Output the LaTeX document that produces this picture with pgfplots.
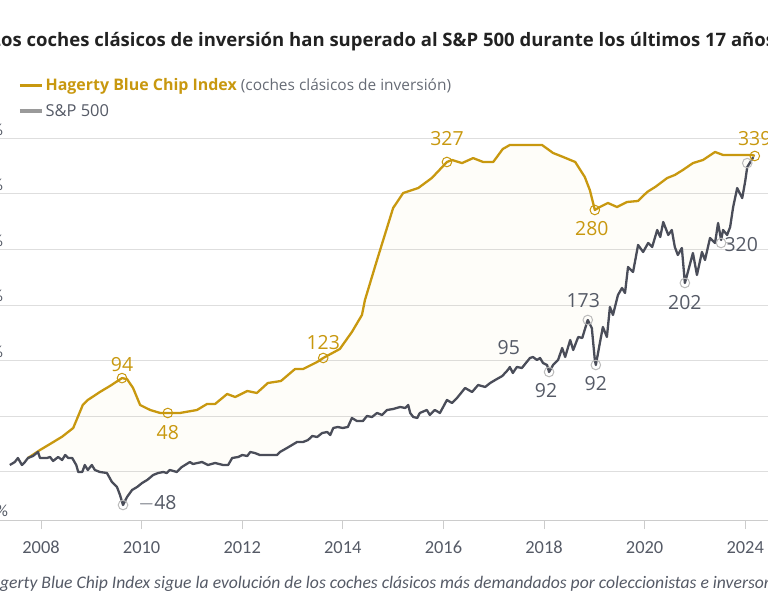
\documentclass[border=0pt]{standalone}
\usepackage{fontspec}
\setmainfont{Open Sans}
\newfontfamily\carlito{Carlito}
\usepackage{pgfplots}
\pgfplotsset{compat=1.18}
\usepgfplotslibrary{fillbetween}
\definecolor{gold}{HTML}{C8980F}
\definecolor{spgray}{HTML}{4A4D59}
\definecolor{gridc}{HTML}{DEDEDE}
\definecolor{axisc}{HTML}{CCCCCC}
\definecolor{titlec}{HTML}{222222}
\definecolor{labgray}{HTML}{555A66}
\definecolor{legline}{HTML}{9A9A9A}
\definecolor{circgray}{HTML}{BBBBBB}
\begin{document}
\begin{tikzpicture}
\begin{axis}[
  at={(-30bp,80bp)}, anchor=south west,
  scale only axis, width=820bp, height=403.9bp,
  xmin=2006.588, xmax=2022.89, ymin=-43.5, ymax=320,
  set layers, clip=false,
  axis x line*=bottom, axis y line*=left,
  y axis line style={draw=none},
  x axis line style={draw=axisc, line width=0.8bp, -},
  ytick={-43.5,0,50,100,150,200,250,300},
  yticklabels={$-$50\%,0\%,50\%,100\%,150\%,200\%,250\%,300\%},
  ymajorgrids, grid style={gridc, line width=0.8bp},
  ytick style={draw=none},
  yticklabel style={anchor=base west, inner sep=0pt, yshift=3bp, xshift=4bp,
    font=\carlito\fontsize{17}{17}\selectfont, text=labgray},
  /pgf/number format/assume math mode=true,
  xtick={2008,2010,2012,2014,2016,2018,2020,2022},
  xticklabels={2008,2010,2012,2014,2016,2018,2020,2024},
  xtick style={draw=axisc, line width=0.8bp},
  tick align=outside, major tick length=9bp,
  xticklabel style={font=\carlito\fontsize{18.5}{18.5}\selectfont, text=labgray, inner sep=0pt, yshift=-12bp},
  legend style={draw=none, fill=none, at={(axis description cs:0.0585,1.0448)}, anchor=west,
    inner sep=0pt, row sep=8bp, font=\fontsize{16}{16}\selectfont, cells={anchor=west}},
  legend image code/.code={\draw[#1] (0bp,0bp) -- (22bp,0bp);},
  legend cell align=left,
]
\addlegendimage{gold, line width=3.5bp}
\addlegendentry{\textcolor{gold}{\bfseries Hagerty Blue Chip Index} \textcolor{labgray!90}{\fontsize{15.5}{16}\selectfont(coches clásicos de inversión)}}
\addlegendimage{legline, line width=3.5bp}
\addlegendentry{\textcolor{labgray}{\fontsize{16.5}{16}\selectfont S\&P 500}}

\addplot[name path=hag, draw=none, forget plot] coordinates {
(2007.74,12.3)(2007.98,19.5)(2008.18,24.9)(2008.42,31.5)(2008.64,39.3)(2008.83,60.0)(2008.93,64.5)(2009.17,71.7)(2009.37,77.1)(2009.61,84.2)(2009.71,83.3)(2009.83,75.3)(2009.97,60.0)(2010.17,55.5)(2010.37,52.8)(2010.52,52.8)(2010.76,52.8)(2011.10,55.5)(2011.30,60.9)(2011.46,60.9)(2011.70,69.9)(2011.86,67.2)(2012.10,72.6)(2012.29,70.8)(2012.51,79.8)(2012.77,81.6)(2013.05,92.4)(2013.21,92.4)(2013.49,98.7)(2013.61,102.3)(2013.94,110.4)(2014.18,125.7)(2014.38,141.0)(2014.44,154.5)(2014.68,190.5)(2015.00,237.3)(2015.20,250.8)(2015.50,255.3)(2015.77,264.3)(2016.07,278.7)(2016.17,280.5)(2016.37,277.7)(2016.59,282.2)(2016.79,278.7)(2016.99,278.7)(2017.18,290.4)(2017.32,294.0)(2017.52,294.0)(2017.96,294.0)(2018.18,286.8)(2018.38,283.2)(2018.62,278.7)(2018.81,265.2)(2018.91,253.5)(2019.01,235.5)(2019.11,238.2)(2019.27,241.8)(2019.45,238.2)(2019.65,242.7)(2019.87,243.6)(2020.05,251.7)(2020.21,256.2)(2020.45,264.3)(2020.60,267.0)(2020.76,271.5)(2020.96,277.7)(2021.16,280.5)(2021.40,287.7)(2021.56,285.0)(2022.14,285.0)(2022.19,284.1)
};
\addplot[name path=sp, draw=none, forget plot] coordinates {
(2007.38,6.0)(2007.48,8.7)(2007.54,12.3)(2007.62,6.0)(2007.68,8.7)(2007.74,12.3)(2007.84,14.1)(2007.94,17.7)(2007.98,12.3)(2008.12,12.3)(2008.18,13.2)(2008.24,9.6)(2008.34,13.2)(2008.42,10.5)(2008.48,15.0)(2008.54,12.3)(2008.62,12.3)(2008.70,6.0)(2008.74,-0.3)(2008.82,-0.3)(2008.87,6.0)(2008.93,1.5)(2009.01,6.0)(2009.07,1.5)(2009.17,-0.3)(2009.31,-1.2)(2009.41,-9.3)(2009.51,-13.8)(2009.57,-21.0)(2009.63,-30.0)(2009.71,-22.8)(2009.81,-16.5)(2009.91,-13.8)(2010.01,-10.2)(2010.11,-7.5)(2010.23,-3.0)(2010.33,-1.2)(2010.43,-0.3)(2010.50,-1.2)(2010.56,1.5)(2010.70,-0.3)(2010.80,4.2)(2010.96,8.7)(2011.02,6.9)(2011.20,8.7)(2011.32,6.0)(2011.46,7.8)(2011.62,6.0)(2011.72,6.0)(2011.80,12.3)(2011.92,13.2)(2012.00,15.0)(2012.10,14.1)(2012.16,17.7)(2012.25,16.8)(2012.35,15.0)(2012.55,15.0)(2012.69,15.0)(2012.75,17.7)(2012.89,21.3)(2012.99,24.0)(2013.09,26.7)(2013.21,26.7)(2013.31,28.5)(2013.39,32.1)(2013.49,31.2)(2013.59,34.8)(2013.69,35.7)(2013.75,33.0)(2013.81,39.3)(2013.90,40.2)(2014.00,39.3)(2014.10,40.2)(2014.18,48.3)(2014.28,45.6)(2014.40,45.6)(2014.48,50.1)(2014.58,49.2)(2014.68,52.8)(2014.78,51.0)(2014.88,55.5)(2015.00,56.4)(2015.14,58.2)(2015.24,57.3)(2015.30,60.0)(2015.34,52.8)(2015.40,49.2)(2015.48,48.3)(2015.53,52.8)(2015.67,55.5)(2015.73,51.0)(2015.83,55.5)(2015.93,52.8)(2016.07,64.5)(2016.17,61.8)(2016.27,66.3)(2016.43,75.3)(2016.57,71.7)(2016.69,78.0)(2016.83,76.2)(2016.93,79.8)(2017.03,82.5)(2017.17,86.1)(2017.28,91.5)(2017.32,94.2)(2017.38,88.8)(2017.46,94.2)(2017.56,93.3)(2017.72,102.3)(2017.78,103.2)(2017.86,100.5)(2017.92,102.3)(2017.98,97.8)(2018.06,96.0)(2018.10,89.7)(2018.18,96.0)(2018.28,100.5)(2018.36,111.3)(2018.42,103.2)(2018.52,118.5)(2018.58,109.5)(2018.68,121.2)(2018.76,120.3)(2018.85,133.8)(2018.87,136.5)(2018.95,129.3)(2019.01,100.5)(2019.03,96.0)(2019.11,115.8)(2019.17,130.2)(2019.25,121.2)(2019.31,148.2)(2019.37,141.0)(2019.47,159.0)(2019.55,165.3)(2019.61,160.8)(2019.67,184.2)(2019.77,179.7)(2019.87,204.0)(2019.97,197.7)(2020.07,205.8)(2020.15,202.2)(2020.25,217.5)(2020.31,211.2)(2020.37,224.7)(2020.47,213.0)(2020.54,217.5)(2020.60,202.2)(2020.66,195.0)(2020.74,201.3)(2020.80,169.8)(2020.86,179.7)(2020.96,196.8)(2021.04,177.0)(2021.14,197.7)(2021.20,190.5)(2021.30,210.3)(2021.40,205.8)(2021.46,223.8)(2021.52,208.5)(2021.56,217.5)(2021.64,213.0)(2021.70,220.2)(2021.76,238.2)(2021.84,255.2)(2021.94,246.2)(2022.00,261.5)(2022.04,274.1)(2022.10,278.6)(2022.16,283.1)
};
\addplot[fill=gold, fill opacity=0.025, draw=none, forget plot, on layer=axis background] fill between[of=hag and sp];

% visible lines
\addplot[gold, line width=2.3bp, line join=round, forget plot] coordinates {
(2007.74,12.3)(2007.98,19.5)(2008.18,24.9)(2008.42,31.5)(2008.64,39.3)(2008.83,60.0)(2008.93,64.5)(2009.17,71.7)(2009.37,77.1)(2009.61,84.2)(2009.71,83.3)(2009.83,75.3)(2009.97,60.0)(2010.17,55.5)(2010.37,52.8)(2010.52,52.8)(2010.76,52.8)(2011.10,55.5)(2011.30,60.9)(2011.46,60.9)(2011.70,69.9)(2011.86,67.2)(2012.10,72.6)(2012.29,70.8)(2012.51,79.8)(2012.77,81.6)(2013.05,92.4)(2013.21,92.4)(2013.49,98.7)(2013.61,102.3)(2013.94,110.4)(2014.18,125.7)(2014.38,141.0)(2014.44,154.5)(2014.68,190.5)(2015.00,237.3)(2015.20,250.8)(2015.50,255.3)(2015.77,264.3)(2016.07,278.7)(2016.17,280.5)(2016.37,277.7)(2016.59,282.2)(2016.79,278.7)(2016.99,278.7)(2017.18,290.4)(2017.32,294.0)(2017.52,294.0)(2017.96,294.0)(2018.18,286.8)(2018.38,283.2)(2018.62,278.7)(2018.81,265.2)(2018.91,253.5)(2019.01,235.5)(2019.11,238.2)(2019.27,241.8)(2019.45,238.2)(2019.65,242.7)(2019.87,243.6)(2020.05,251.7)(2020.21,256.2)(2020.45,264.3)(2020.60,267.0)(2020.76,271.5)(2020.96,277.7)(2021.16,280.5)(2021.40,287.7)(2021.56,285.0)(2022.14,285.0)(2022.19,284.1)
};
\addplot[spgray, line width=2.3bp, line join=round, forget plot] coordinates {
(2007.38,6.0)(2007.48,8.7)(2007.54,12.3)(2007.62,6.0)(2007.68,8.7)(2007.74,12.3)(2007.84,14.1)(2007.94,17.7)(2007.98,12.3)(2008.12,12.3)(2008.18,13.2)(2008.24,9.6)(2008.34,13.2)(2008.42,10.5)(2008.48,15.0)(2008.54,12.3)(2008.62,12.3)(2008.70,6.0)(2008.74,-0.3)(2008.82,-0.3)(2008.87,6.0)(2008.93,1.5)(2009.01,6.0)(2009.07,1.5)(2009.17,-0.3)(2009.31,-1.2)(2009.41,-9.3)(2009.51,-13.8)(2009.57,-21.0)(2009.63,-30.0)(2009.71,-22.8)(2009.81,-16.5)(2009.91,-13.8)(2010.01,-10.2)(2010.11,-7.5)(2010.23,-3.0)(2010.33,-1.2)(2010.43,-0.3)(2010.50,-1.2)(2010.56,1.5)(2010.70,-0.3)(2010.80,4.2)(2010.96,8.7)(2011.02,6.9)(2011.20,8.7)(2011.32,6.0)(2011.46,7.8)(2011.62,6.0)(2011.72,6.0)(2011.80,12.3)(2011.92,13.2)(2012.00,15.0)(2012.10,14.1)(2012.16,17.7)(2012.25,16.8)(2012.35,15.0)(2012.55,15.0)(2012.69,15.0)(2012.75,17.7)(2012.89,21.3)(2012.99,24.0)(2013.09,26.7)(2013.21,26.7)(2013.31,28.5)(2013.39,32.1)(2013.49,31.2)(2013.59,34.8)(2013.69,35.7)(2013.75,33.0)(2013.81,39.3)(2013.90,40.2)(2014.00,39.3)(2014.10,40.2)(2014.18,48.3)(2014.28,45.6)(2014.40,45.6)(2014.48,50.1)(2014.58,49.2)(2014.68,52.8)(2014.78,51.0)(2014.88,55.5)(2015.00,56.4)(2015.14,58.2)(2015.24,57.3)(2015.30,60.0)(2015.34,52.8)(2015.40,49.2)(2015.48,48.3)(2015.53,52.8)(2015.67,55.5)(2015.73,51.0)(2015.83,55.5)(2015.93,52.8)(2016.07,64.5)(2016.17,61.8)(2016.27,66.3)(2016.43,75.3)(2016.57,71.7)(2016.69,78.0)(2016.83,76.2)(2016.93,79.8)(2017.03,82.5)(2017.17,86.1)(2017.28,91.5)(2017.32,94.2)(2017.38,88.8)(2017.46,94.2)(2017.56,93.3)(2017.72,102.3)(2017.78,103.2)(2017.86,100.5)(2017.92,102.3)(2017.98,97.8)(2018.06,96.0)(2018.10,89.7)(2018.18,96.0)(2018.28,100.5)(2018.36,111.3)(2018.42,103.2)(2018.52,118.5)(2018.58,109.5)(2018.68,121.2)(2018.76,120.3)(2018.85,133.8)(2018.87,136.5)(2018.95,129.3)(2019.01,100.5)(2019.03,96.0)(2019.11,115.8)(2019.17,130.2)(2019.25,121.2)(2019.31,148.2)(2019.37,141.0)(2019.47,159.0)(2019.55,165.3)(2019.61,160.8)(2019.67,184.2)(2019.77,179.7)(2019.87,204.0)(2019.97,197.7)(2020.07,205.8)(2020.15,202.2)(2020.25,217.5)(2020.31,211.2)(2020.37,224.7)(2020.47,213.0)(2020.54,217.5)(2020.60,202.2)(2020.66,195.0)(2020.74,201.3)(2020.80,169.8)(2020.86,179.7)(2020.96,196.8)(2021.04,177.0)(2021.14,197.7)(2021.20,190.5)(2021.30,210.3)(2021.40,205.8)(2021.46,223.8)(2021.52,208.5)(2021.56,217.5)(2021.64,213.0)(2021.70,220.2)(2021.76,238.2)(2021.84,255.2)(2021.94,246.2)(2022.00,261.5)(2022.04,274.1)(2022.10,278.6)(2022.16,283.1)
};

% highlight circles
\addplot[only marks, mark=o, mark size=4.8bp, mark options={gold, line width=1bp, fill=white, fill opacity=0.5}, forget plot] coordinates {
(2009.61,84.2)(2010.52,52.8)(2013.61,102.3)(2016.07,278.7)(2019.01,235.5)(2022.19,284.1)};
\addplot[only marks, mark=o, mark size=4.8bp, mark options={circgray, line width=1bp, fill=white, fill opacity=0.5}, forget plot] coordinates {
(2009.63,-30.0)(2018.10,89.7)(2018.87,136.5)(2019.03,96.0)(2020.80,169.8)(2021.52,205.8)(2022.04,277.7)};

% annotations
\begin{scope}[font=\fontsize{19.5}{19.5}\selectfont]
\node[text=gold] at (axis cs:2009.61,96.5) {94};
\node[text=gold] at (axis cs:2010.52,35.2) {48};
\node[text=gold] at (axis cs:2013.61,116.0) {123};
\node[text=gold] at (axis cs:2016.07,300.0) {327};
\node[text=gold] at (axis cs:2018.95,218.7) {280};
\node[text=gold] at (axis cs:2022.19,300.0) {339};
\node[text=labgray, anchor=west, inner sep=0pt] at (axis cs:2009.93,-28.2) {$-$48};
\node[text=labgray] at (axis cs:2017.30,111.6) {95};
\node[text=labgray] at (axis cs:2018.04,73.0) {92};
\node[text=labgray] at (axis cs:2018.78,154.0) {173};
\node[text=labgray] at (axis cs:2019.03,79.3) {92};
\node[text=labgray] at (axis cs:2020.80,152.1) {202};
\node[text=labgray] at (axis cs:2021.92,204.0) {320};
\end{scope}
\draw[circgray, line width=1bp] (axis cs:2021.62,205.8) -- (axis cs:2021.72,205.8);
\end{axis}

% title and footnote
\node[anchor=base west, inner sep=0pt, text=titlec, font=\bfseries\fontsize{18.6}{18.6}\selectfont] at (1bp,553bp)
  {\llap{L}os coches clásicos de inversión han superado al S\&P 500 durante los últimos 17 años};
\node[anchor=base west, inner sep=0pt, text=labgray, font=\carlito\itshape\fontsize{17.7}{17.7}\selectfont] at (0bp,12bp)
  {\llap{El Ha}gerty Blue Chip Index sigue la evolución de los coches clásicos más demandados por coleccionistas e inversores.};

\pgfresetboundingbox
\path[use as bounding box] (0bp,0bp) rectangle (768bp,600bp);
\end{tikzpicture}
\end{document}
